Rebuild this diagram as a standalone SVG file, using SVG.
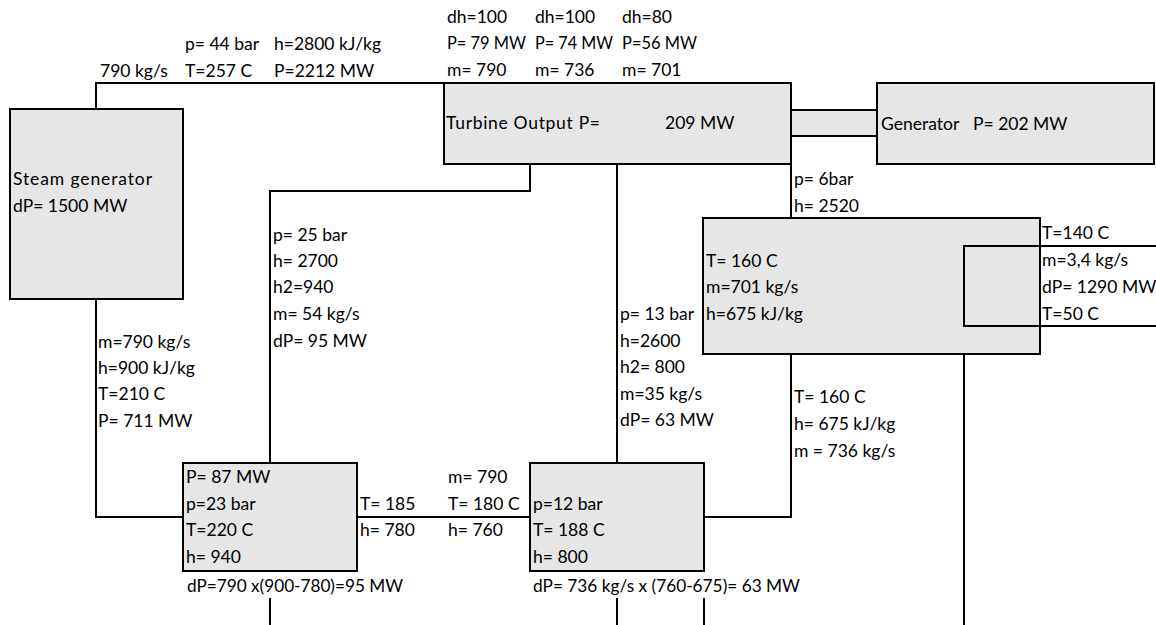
<svg xmlns="http://www.w3.org/2000/svg" width="1156" height="625" viewBox="0 0 1156 625">
<style>
.box{fill:#e6e6e6;stroke:#000;stroke-width:2}
.open{fill:none;stroke:#000;stroke-width:2}
.ln{fill:none;stroke:#000;stroke-width:2}
text{font-family:Lato,"Liberation Sans",sans-serif;font-size:17.5px;fill:#000}
</style>
<rect width="1156" height="625" fill="#fff"/>
<g id="connectors">
<polyline class="ln" points="96,109 96,83 444,83"/>
<polyline class="ln" points="96,299 96,517 183,517"/>
<polyline class="ln" points="530,164 530,191 270,191 270,463"/>
<line class="ln" x1="617" y1="164" x2="617" y2="463"/>
<line class="ln" x1="791" y1="136" x2="791" y2="218"/>
<polyline class="ln" points="791,354 791,517 704,517"/>
<line class="ln" x1="964" y1="354" x2="964" y2="625"/>
<line class="ln" x1="357" y1="517" x2="530" y2="517"/>
<line class="ln" x1="270" y1="598" x2="270" y2="625"/>
<line class="ln" x1="617" y1="598" x2="617" y2="625"/>
<line class="ln" x1="704" y1="598" x2="704" y2="625"/>
</g>
<g id="shaft"><rect class="box" x="791" y="110" width="86" height="26"/></g>
<g id="steam-generator">
<rect class="box" x="10" y="109" width="173" height="190"/>
<text x="13" y="185" textLength="139" lengthAdjust="spacing">Steam generator</text>
<text x="13" y="212">dP= 1500 MW</text>
</g>
<g id="turbine">
<rect class="box" x="444" y="83" width="347" height="81"/>
<text x="446" y="129" textLength="154" lengthAdjust="spacing">Turbine Output P=</text>
<text x="665" y="129">209 MW</text>
</g>
<g id="generator">
<rect class="box" x="877" y="83" width="277" height="81"/>
<text x="881" y="130">Generator</text>
<text x="973" y="130">P= 202 MW</text>
</g>
<g id="deaerator">
<rect class="box" x="703" y="218" width="337" height="136"/>
<text x="706" y="267">T= 160 C</text>
<text x="706" y="293">m=701 kg/s</text>
<text x="706" y="320">h=675 kJ/kg</text>
</g>
<g id="cooler">
<rect class="open" x="964" y="246" width="200" height="80"/>
</g>
<g id="heater-left">
<rect class="box" x="183" y="463" width="174" height="108"/>
<text x="186" y="483">P= 87 MW</text>
<text x="186" y="510">p=23 bar</text>
<text x="186" y="536">T=220 C</text>
<text x="186" y="563">h= 940</text>
</g>
<g id="heater-right">
<rect class="box" x="530" y="463" width="174" height="108"/>
<text x="533" y="510">p=12 bar</text>
<text x="533" y="536">T= 188 C</text>
<text x="533" y="563">h= 800</text>
</g>
<g id="labels">
<text x="185" y="50">p= 44 bar</text>
<text x="274" y="50">h=2800 kJ/kg</text>
<text x="100" y="77">790 kg/s</text>
<text x="185" y="77">T=257 C</text>
<text x="274" y="77">P=2212 MW</text>
<text x="447" y="23">dh=100</text>
<text x="535" y="23">dh=100</text>
<text x="622" y="23">dh=80</text>
<text x="447" y="49" textLength="79" lengthAdjust="spacingAndGlyphs">P= 79 MW</text>
<text x="535" y="49" textLength="78" lengthAdjust="spacingAndGlyphs">P= 74 MW</text>
<text x="622" y="49" textLength="75" lengthAdjust="spacingAndGlyphs">P=56 MW</text>
<text x="447" y="76">m= 790</text>
<text x="535" y="76">m= 736</text>
<text x="622" y="76">m= 701</text>
<text x="794" y="185">p= 6bar</text>
<text x="794" y="212">h= 2520</text>
<text x="1042" y="239">T=140 C</text>
<text x="1042" y="266">m=3,4 kg/s</text>
<text x="1042" y="293">dP= 1290 MW</text>
<text x="1042" y="320">T=50 C</text>
<text x="273" y="241">p= 25 bar</text>
<text x="273" y="267">h= 2700</text>
<text x="273" y="293">h2=940</text>
<text x="273" y="320">m= 54 kg/s</text>
<text x="273" y="347">dP= 95 MW</text>
<text x="98" y="348">m=790 kg/s</text>
<text x="98" y="374">h=900 kJ/kg</text>
<text x="98" y="400">T=210 C</text>
<text x="98" y="427">P= 711 MW</text>
<text x="620" y="320">p= 13 bar</text>
<text x="620" y="347">h=2600</text>
<text x="620" y="373">h2= 800</text>
<text x="620" y="400">m=35 kg/s</text>
<text x="620" y="426">dP= 63 MW</text>
<text x="794" y="403">T= 160 C</text>
<text x="794" y="430">h= 675 kJ/kg</text>
<text x="794" y="457">m = 736 kg/s</text>
<text x="360" y="510">T= 185</text>
<text x="360" y="536">h= 780</text>
<text x="448" y="483">m= 790</text>
<text x="448" y="510">T= 180 C</text>
<text x="448" y="536">h= 760</text>
<text x="187" y="592" textLength="216" lengthAdjust="spacingAndGlyphs">dP=790 x(900-780)=95 MW</text>
<text x="533" y="592" textLength="267" lengthAdjust="spacingAndGlyphs">dP= 736 kg/s x (760-675)= 63 MW</text>
</g>
</svg>
